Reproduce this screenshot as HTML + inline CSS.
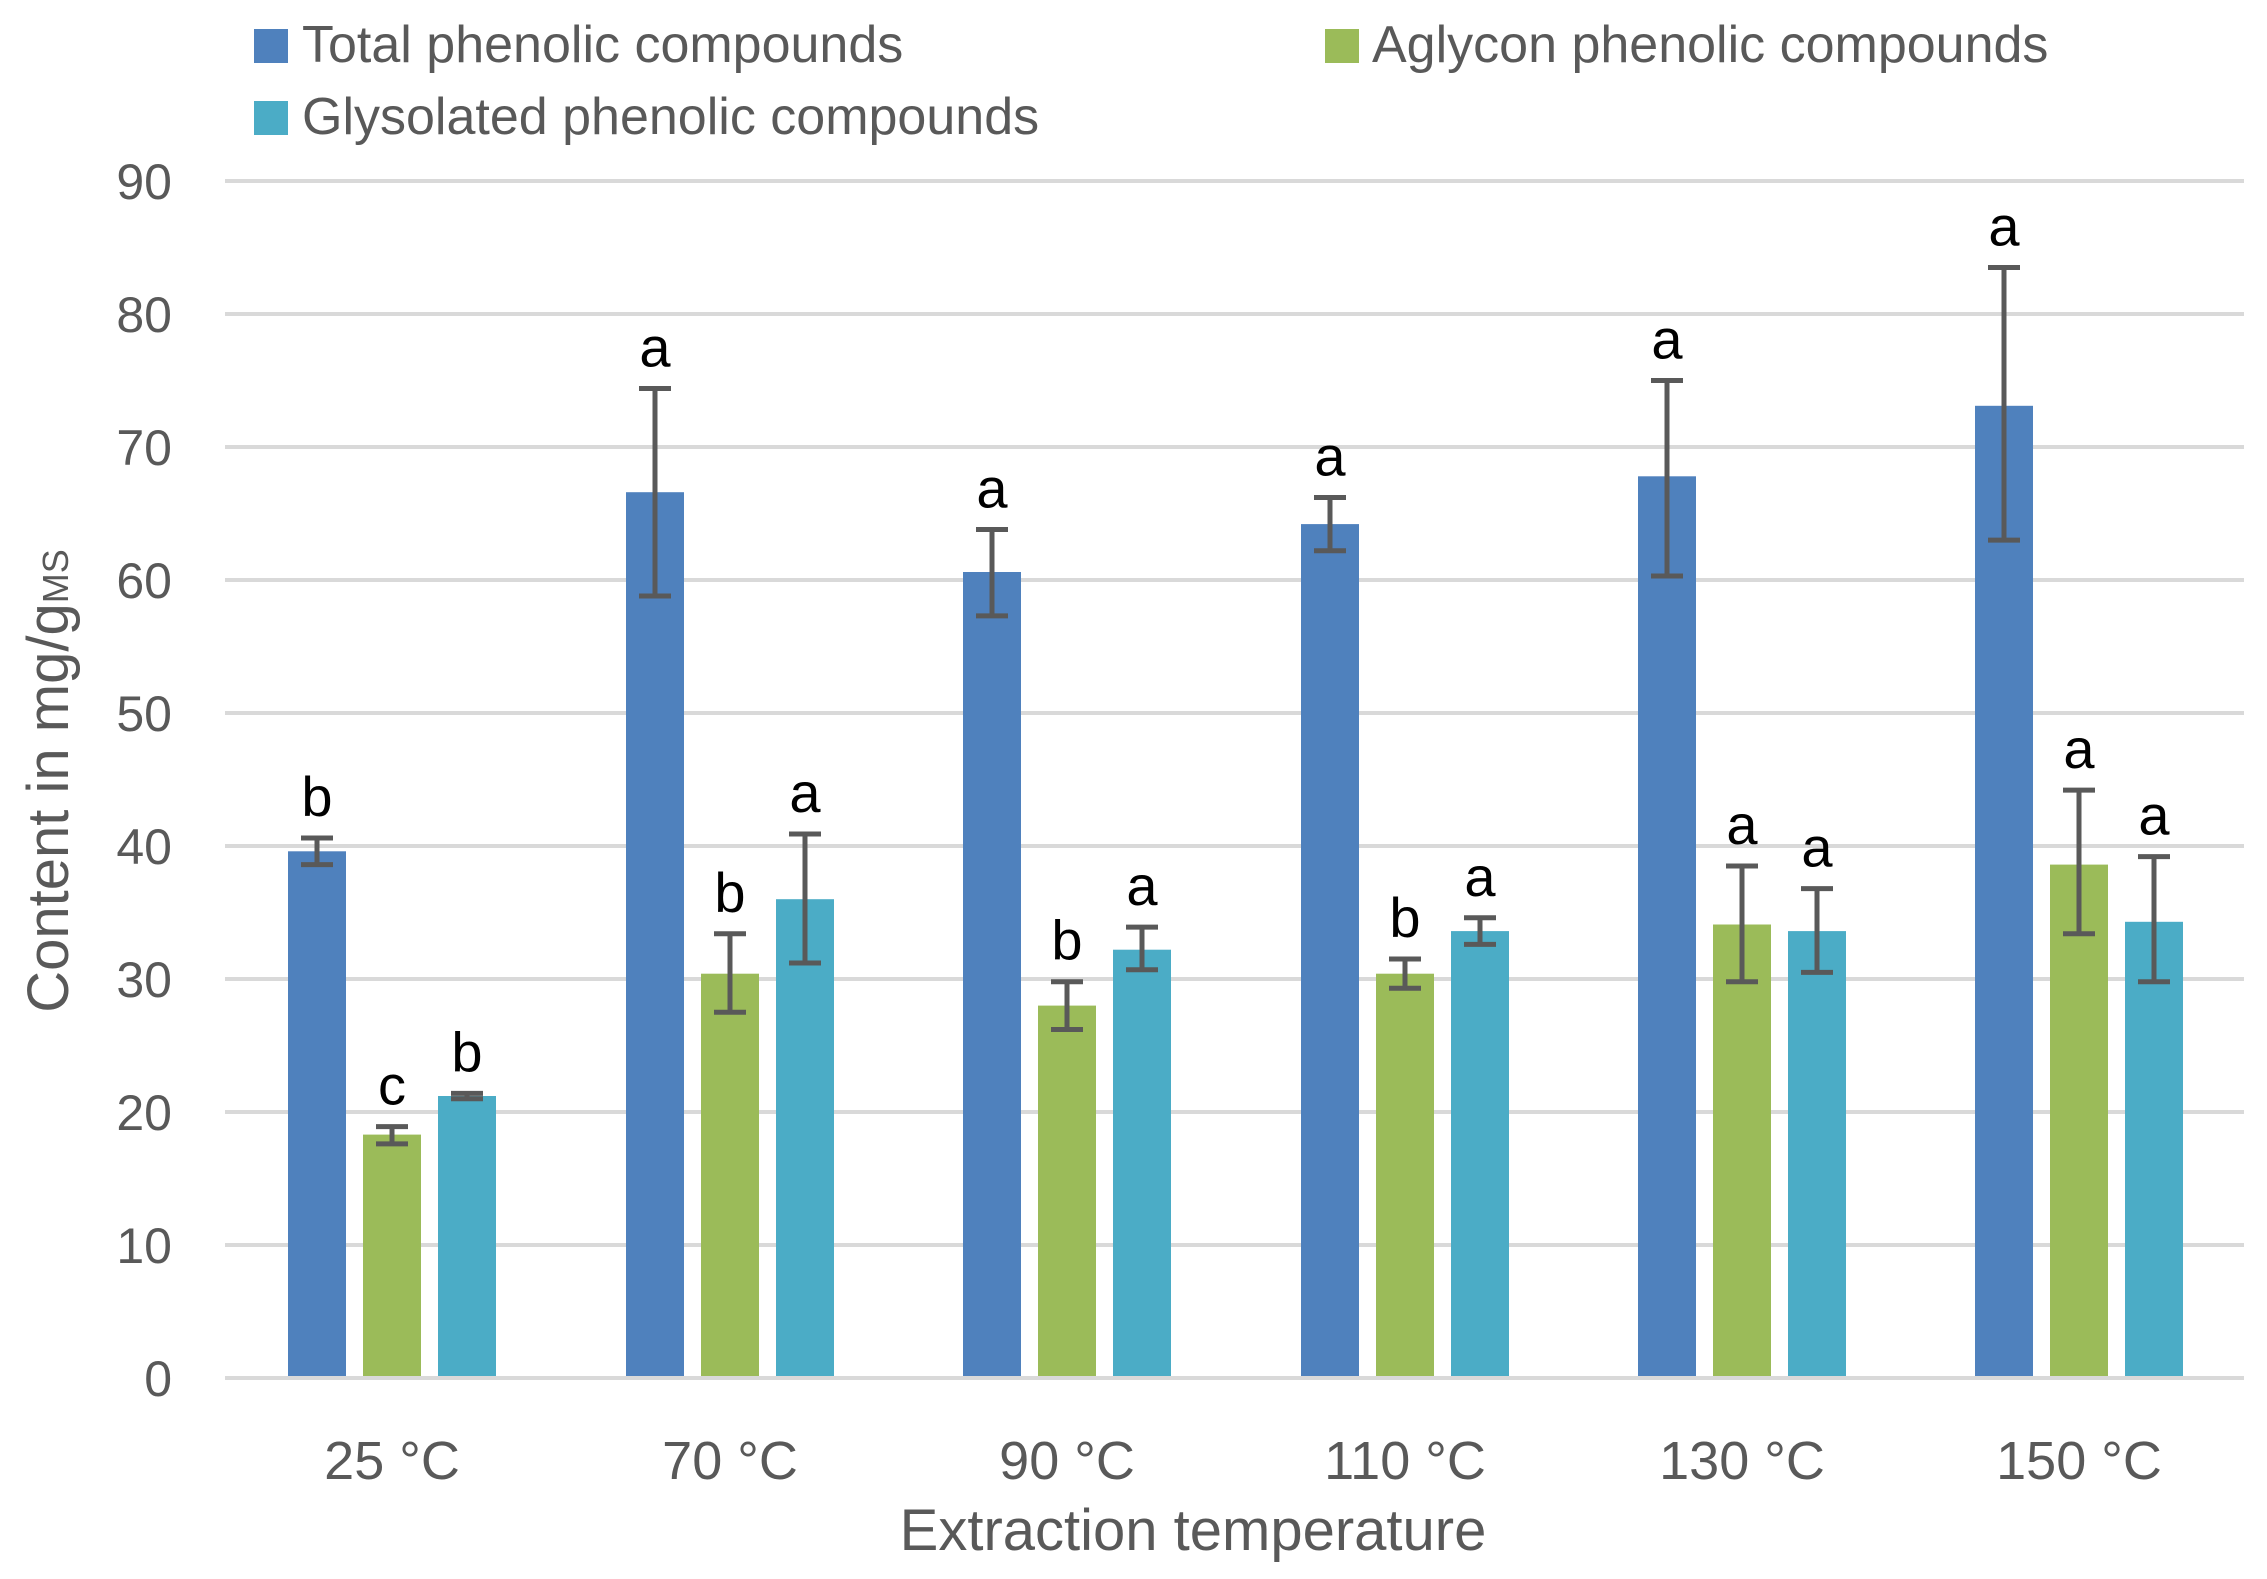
<!DOCTYPE html>
<html><head><meta charset="utf-8"><style>
html,body{margin:0;padding:0;background:#fff}
svg{display:block}
text{font-family:"Liberation Sans Narrow","Liberation Sans",sans-serif;fill:#595959}
.l{fill:#000;font-size:56px}
</style></head><body>
<svg width="2267" height="1579" viewBox="0 0 2267 1579" xmlns="http://www.w3.org/2000/svg">
<g stroke="#d9d9d9" stroke-width="4">
<line x1="225" x2="2244" y1="1378" y2="1378"/>
<line x1="225" x2="2244" y1="1245" y2="1245"/>
<line x1="225" x2="2244" y1="1112" y2="1112"/>
<line x1="225" x2="2244" y1="979" y2="979"/>
<line x1="225" x2="2244" y1="846" y2="846"/>
<line x1="225" x2="2244" y1="713" y2="713"/>
<line x1="225" x2="2244" y1="580" y2="580"/>
<line x1="225" x2="2244" y1="447" y2="447"/>
<line x1="225" x2="2244" y1="314" y2="314"/>
<line x1="225" x2="2244" y1="181" y2="181"/>
</g>
<g font-size="50" text-anchor="end">
<text x="172" y="1396">0</text>
<text x="172" y="1263">10</text>
<text x="172" y="1130">20</text>
<text x="172" y="997">30</text>
<text x="172" y="864">40</text>
<text x="172" y="731">50</text>
<text x="172" y="598">60</text>
<text x="172" y="465">70</text>
<text x="172" y="332">80</text>
<text x="172" y="199">90</text>
</g>

<!-- bars -->
<g fill="#4F81BD">
<rect x="288" y="851.3" width="58" height="524.7"/>
<rect x="626" y="492.2" width="58" height="883.8"/>
<rect x="963" y="572" width="58" height="804"/>
<rect x="1301" y="524.1" width="58" height="851.9"/>
<rect x="1638" y="476.3" width="58" height="899.7"/>
<rect x="1975" y="405.8" width="58" height="970.2"/>
</g>
<g fill="#9BBB59">
<rect x="363" y="1134.6" width="58" height="241.4"/>
<rect x="701" y="973.7" width="58" height="402.3"/>
<rect x="1038" y="1005.6" width="58" height="370.4"/>
<rect x="1376" y="973.7" width="58" height="402.3"/>
<rect x="1713" y="924.5" width="58" height="451.5"/>
<rect x="2050" y="864.6" width="58" height="511.4"/>
</g>
<g fill="#4BACC6">
<rect x="438" y="1096" width="58" height="280"/>
<rect x="776" y="899.2" width="58" height="476.8"/>
<rect x="1113" y="949.7" width="58" height="426.3"/>
<rect x="1451" y="931.1" width="58" height="444.9"/>
<rect x="1788" y="931.1" width="58" height="444.9"/>
<rect x="2125" y="921.8" width="58" height="454.2"/>
</g>

<!-- error bars -->
<g stroke="#595959" stroke-width="5" fill="none">
<path d="M317 864.6V838M301 864.6H333M301 838H333"/>
<path d="M392 1143.9V1126.6M376 1143.9H408M376 1126.6H408"/>
<path d="M467 1098.7V1093.4M451 1098.7H483M451 1093.4H483"/>

<path d="M655 596V388.5M639 596H671M639 388.5H671"/>
<path d="M730 1012.3V933.8M714 1012.3H746M714 933.8H746"/>
<path d="M805 963V834M789 963H821M789 834H821"/>

<path d="M992 615.9V529.5M976 615.9H1008M976 529.5H1008"/>
<path d="M1067 1029.5V981.7M1051 1029.5H1083M1051 981.7H1083"/>
<path d="M1142 969.7V927.1M1126 969.7H1158M1126 927.1H1158"/>

<path d="M1330 550.7V497.5M1314 550.7H1346M1314 497.5H1346"/>
<path d="M1405 988.3V959M1389 988.3H1421M1389 959H1421"/>
<path d="M1480 944.4V917.8M1464 944.4H1496M1464 917.8H1496"/>

<path d="M1667 576V380.5M1651 576H1683M1651 380.5H1683"/>
<path d="M1742 981.7V866M1726 981.7H1758M1726 866H1758"/>
<path d="M1817 972.4V888.6M1801 972.4H1833M1801 888.6H1833"/>

<path d="M2004 540.1V267.5M1988 540.1H2020M1988 267.5H2020"/>
<path d="M2079 933.8V790.1M2063 933.8H2095M2063 790.1H2095"/>
<path d="M2154 981.7V856.6M2138 981.7H2170M2138 856.6H2170"/>
</g>

<!-- significance letters -->
<g text-anchor="middle">
<text class="l" x="317" y="816">b</text>
<text class="l" x="392" y="1104.6">c</text>
<text class="l" x="467" y="1071.4">b</text>
<text class="l" x="655" y="366.5">a</text>
<text class="l" x="730" y="911.8">b</text>
<text class="l" x="805" y="812">a</text>
<text class="l" x="992" y="507.5">a</text>
<text class="l" x="1067" y="959.7">b</text>
<text class="l" x="1142" y="905.1">a</text>
<text class="l" x="1330" y="475.5">a</text>
<text class="l" x="1405" y="937">b</text>
<text class="l" x="1480" y="895.8">a</text>
<text class="l" x="1667" y="358.5">a</text>
<text class="l" x="1742" y="844">a</text>
<text class="l" x="1817" y="866.6">a</text>
<text class="l" x="2004" y="245.5">a</text>
<text class="l" x="2079" y="768">a</text>
<text class="l" x="2154" y="834.6">a</text>
</g>

<g font-size="54" text-anchor="middle">
<text x="392" y="1479">25 °C</text>
<text x="730" y="1479">70 °C</text>
<text x="1067" y="1479">90 °C</text>
<text x="1405" y="1479">110 °C</text>
<text x="1742" y="1479">130 °C</text>
<text x="2079" y="1479">150 °C</text>
<text x="1193" y="1550" font-size="58">Extraction temperature</text>
</g>
<text transform="translate(68,781) rotate(-90)" text-anchor="middle" font-size="58">Content in mg/g<tspan font-size="36">MS</tspan></text>
<rect x="254" y="29" width="34" height="34" fill="#4F81BD"/>
<text x="302" y="62" font-size="52">Total phenolic compounds</text>
<rect x="1325" y="29" width="34" height="34" fill="#9BBB59"/>
<text x="1372" y="62" font-size="52">Aglycon phenolic compounds</text>
<rect x="254" y="101" width="34" height="34" fill="#4BACC6"/>
<text x="302" y="134" font-size="52">Glysolated phenolic compounds</text>
</svg>
</body></html>
